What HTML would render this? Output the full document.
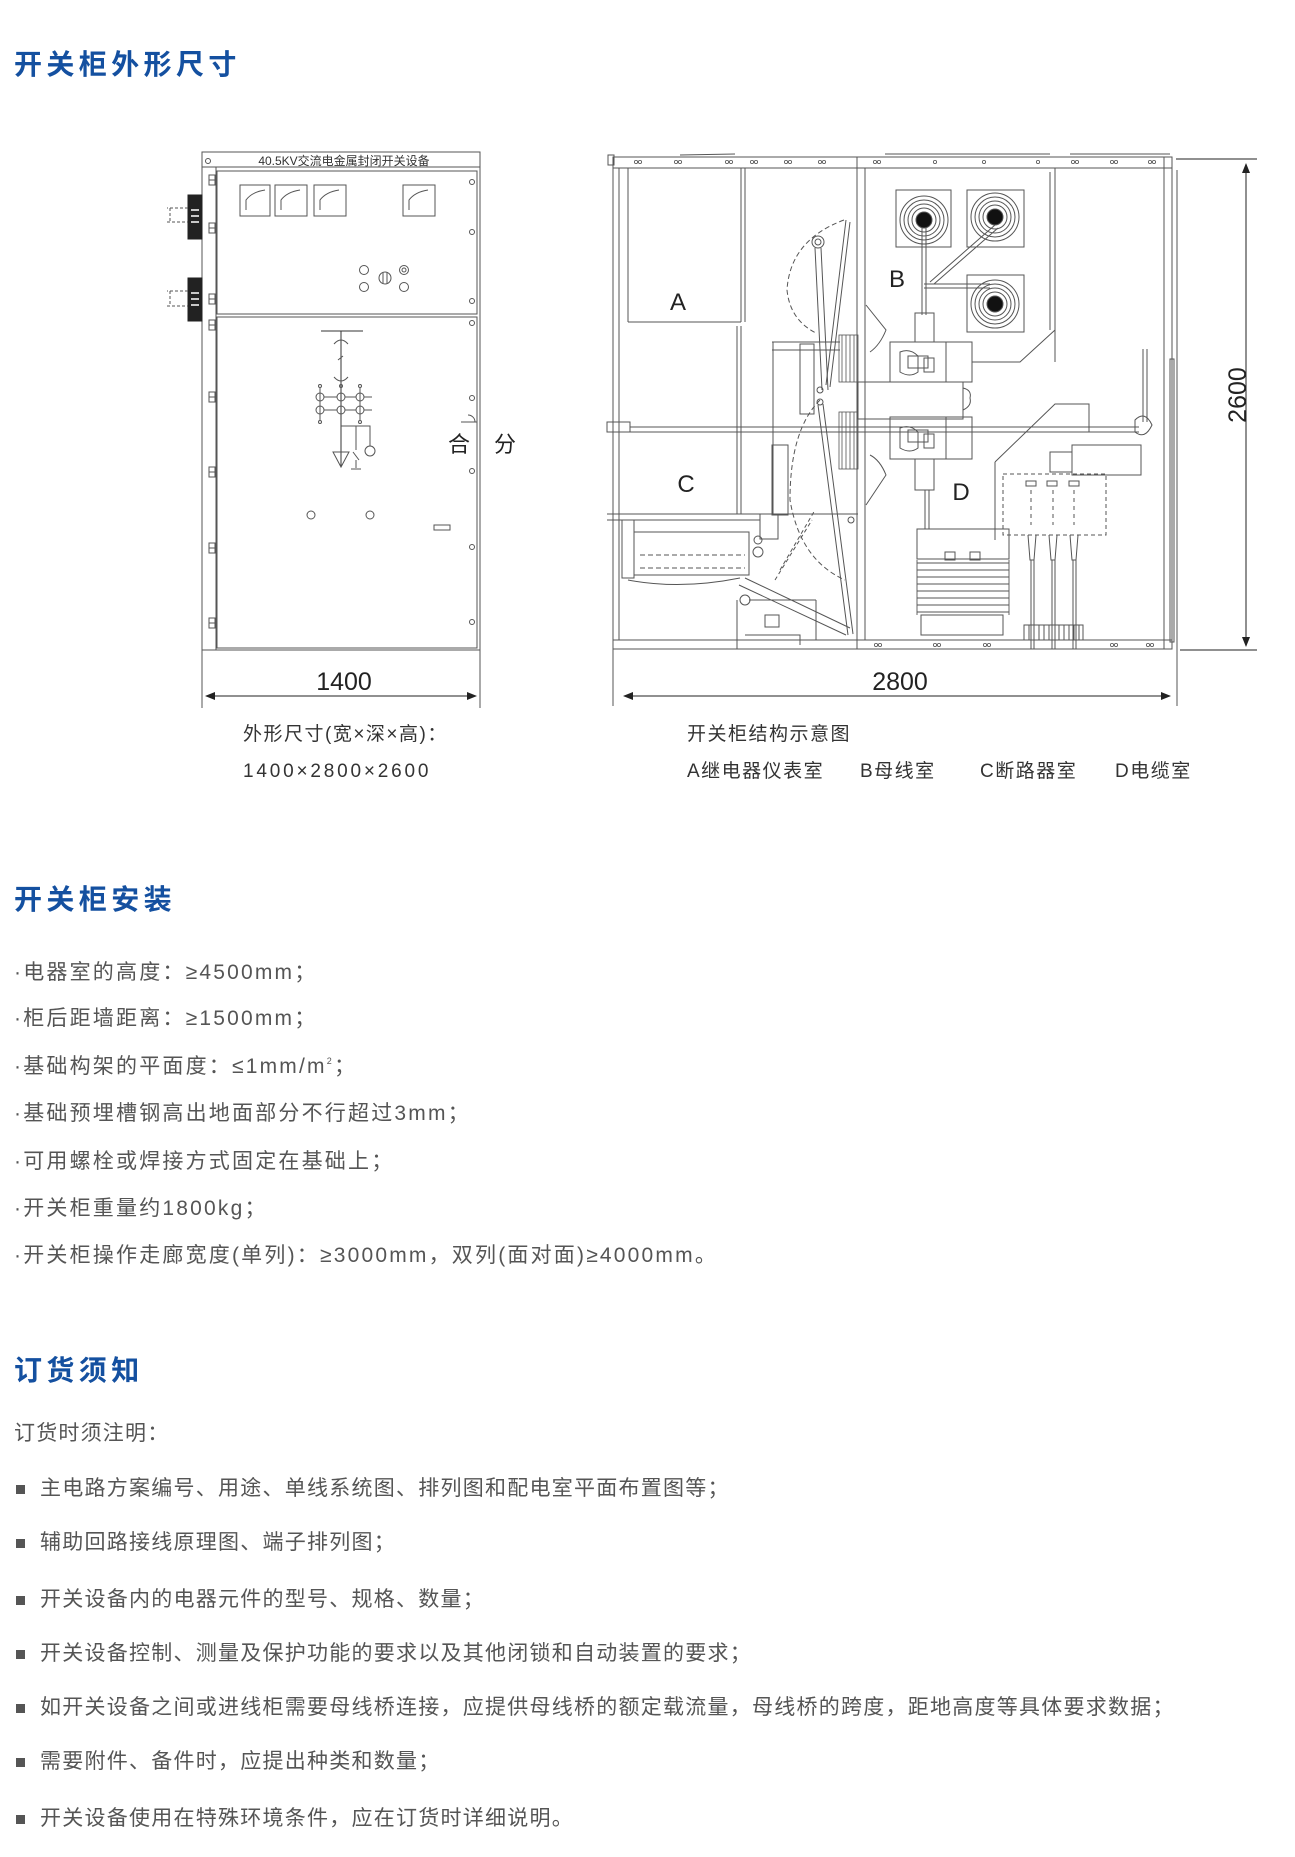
<!DOCTYPE html>
<html><head><meta charset="utf-8">
<style>
html,body{margin:0;padding:0;background:#fff;}
body{width:1295px;height:1857px;position:relative;overflow:hidden;font-family:"Liberation Sans","Noto Sans CJK SC",sans-serif;color:#555;}
.t{position:absolute;white-space:nowrap;}
.h{font-size:28px;font-weight:bold;color:#1450a0;letter-spacing:4.4px;left:14px;line-height:30px;}
.p{font-size:21px;letter-spacing:2.2px;line-height:24px;left:14px;color:#555;}
.b{font-size:21px;letter-spacing:1.25px;line-height:24px;left:40px;color:#555;}
.sq{position:absolute;left:16px;width:9px;height:9px;background:#555;}
.c{font-size:19px;letter-spacing:1.5px;line-height:22px;color:#333;}
.sp{font-size:9px;position:relative;top:-9px;}
</style></head><body>
<div class="t h" style="top:50px">开关柜外形尺寸</div>
<div class="t h" style="top:885px">开关柜安装</div>
<div class="t h" style="top:1356px">订货须知</div>

<div class="t p" style="top:961px">·电器室的高度：≥4500mm；</div>
<div class="t p" style="top:1007px">·柜后距墙距离：≥1500mm；</div>
<div class="t p" style="top:1055px">·基础构架的平面度：≤1mm/m<span class="sp">2</span>；</div>
<div class="t p" style="top:1102px">·基础预埋槽钢高出地面部分不行超过3mm；</div>
<div class="t p" style="top:1150px">·可用螺栓或焊接方式固定在基础上；</div>
<div class="t p" style="top:1197px">·开关柜重量约1800kg；</div>
<div class="t p" style="top:1244px">·开关柜操作走廊宽度(单列)：≥3000mm，双列(面对面)≥4000mm。</div>

<div class="t p" style="top:1422px;letter-spacing:1.2px">订货时须注明：</div>
<div class="sq" style="top:1485px"></div><div class="t b" style="top:1477px">主电路方案编号、用途、单线系统图、排列图和配电室平面布置图等；</div>
<div class="sq" style="top:1539px"></div><div class="t b" style="top:1531px">辅助回路接线原理图、端子排列图；</div>
<div class="sq" style="top:1596px"></div><div class="t b" style="top:1588px">开关设备内的电器元件的型号、规格、数量；</div>
<div class="sq" style="top:1650px"></div><div class="t b" style="top:1642px">开关设备控制、测量及保护功能的要求以及其他闭锁和自动装置的要求；</div>
<div class="sq" style="top:1704px"></div><div class="t b" style="top:1696px">如开关设备之间或进线柜需要母线桥连接，应提供母线桥的额定载流量，母线桥的跨度，距地高度等具体要求数据；</div>
<div class="sq" style="top:1758px"></div><div class="t b" style="top:1750px">需要附件、备件时，应提出种类和数量；</div>
<div class="sq" style="top:1815px"></div><div class="t b" style="top:1807px">开关设备使用在特殊环境条件，应在订货时详细说明。</div>

<div class="t c" style="left:243px;top:724px">外形尺寸(宽×深×高)：</div>
<div class="t c" style="left:243px;top:761px;letter-spacing:2.8px">1400×2800×2600</div>
<div class="t c" style="left:687px;top:724px">开关柜结构示意图</div>
<div class="t c" style="left:687px;top:761px">A继电器仪表室</div>
<div class="t c" style="left:860px;top:761px">B母线室</div>
<div class="t c" style="left:980px;top:761px">C断路器室</div>
<div class="t c" style="left:1115px;top:761px">D电缆室</div>

<svg style="position:absolute;left:0;top:0" width="1295" height="720" viewBox="0 0 1295 720" xmlns="http://www.w3.org/2000/svg">
<defs><marker id="ar" markerWidth="10" markerHeight="8" refX="9" refY="4" orient="auto"><path d="M0,0 L10,4 L0,8 Z" fill="#222"/></marker></defs>
<g fill="none" stroke="#555" stroke-width="1">
<!-- LEFT CABINET -->
<rect x="202" y="152" width="278" height="498"/>
<line x1="202" y1="167" x2="480" y2="167"/>
<circle cx="208" cy="161" r="2.5"/>
<line x1="216" y1="167" x2="216" y2="650"/>
<rect x="217" y="171" width="260" height="143"/>
<rect x="217" y="317" width="260" height="331"/>
<g>
<rect x="209" y="175" width="6" height="10"/><line x1="209" y1="180" x2="215" y2="180"/>
<rect x="209" y="223" width="6" height="10"/><line x1="209" y1="228" x2="215" y2="228"/>
<rect x="209" y="294" width="6" height="10"/><line x1="209" y1="299" x2="215" y2="299"/>
<rect x="209" y="320" width="6" height="10"/><line x1="209" y1="325" x2="215" y2="325"/>
<rect x="209" y="392" width="6" height="10"/><line x1="209" y1="397" x2="215" y2="397"/>
<rect x="209" y="467" width="6" height="10"/><line x1="209" y1="472" x2="215" y2="472"/>
<rect x="209" y="543" width="6" height="10"/><line x1="209" y1="548" x2="215" y2="548"/>
<rect x="209" y="618" width="6" height="10"/><line x1="209" y1="623" x2="215" y2="623"/>
</g>
<rect x="240" y="185" width="30" height="31"/><path d="M246,210 L246,200 Q252,192 265,190"/>
<rect x="275" y="185" width="32" height="31"/><path d="M281,210 L281,200 Q287,192 300,190"/>
<rect x="314" y="185" width="32" height="31"/><path d="M320,210 L320,200 Q326,192 339,190"/>
<rect x="403" y="185" width="32" height="31"/><path d="M409,210 L409,200 Q415,192 428,190"/>
<circle cx="364" cy="270" r="4.5"/><circle cx="364" cy="287" r="4.5"/>
<circle cx="385" cy="278" r="6"/><line x1="383" y1="272" x2="383" y2="284"/><line x1="387" y1="272" x2="387" y2="284"/>
<circle cx="404" cy="270" r="4.5"/><circle cx="404" cy="270" r="2"/><circle cx="404" cy="287" r="4.5"/>
<circle cx="472" cy="182" r="2.5"/><circle cx="472" cy="232" r="2.5"/><circle cx="472" cy="301" r="2.5"/>
<circle cx="472" cy="323" r="2.5"/><circle cx="472" cy="398" r="2.5"/><circle cx="472" cy="471" r="2.5"/><circle cx="472" cy="547" r="2.5"/><circle cx="472" cy="622" r="2.5"/>
<line x1="321" y1="331" x2="363" y2="331" stroke="#333"/>
<line x1="341" y1="331" x2="341" y2="467" stroke="#333"/>
<path d="M334,344 Q341,336 348,344"/><path d="M334,377 Q341,385 348,377"/>
<line x1="338" y1="360" x2="343" y2="356"/>
<circle cx="320" cy="397" r="4"/><circle cx="341" cy="397" r="4"/><circle cx="360" cy="397" r="4"/>
<circle cx="320" cy="410" r="4"/><circle cx="341" cy="410" r="4"/><circle cx="360" cy="410" r="4"/>
<line x1="320" y1="388" x2="320" y2="420"/><line x1="360" y1="388" x2="360" y2="420"/>
<path d="M324,397 L337,397 M345,397 L356,397 M364,397 L372,397 M324,410 L337,410 M345,410 L356,410 M364,410 L372,410"/>
<circle cx="320" cy="386" r="1.5"/><circle cx="341" cy="386" r="1.5"/><circle cx="360" cy="386" r="1.5"/>
<circle cx="320" cy="422" r="1.5"/><circle cx="360" cy="422" r="1.5"/>
<path d="M341,426 L370,426 L370,446"/><circle cx="370" cy="451" r="5"/>
<path d="M333,452 L349,452 L341,467 Z"/>
<path d="M356,426 L356,450 M353,452 L359,460 M356,460 L356,468 M351,469 L361,469"/>
<circle cx="311" cy="515" r="4"/><circle cx="370" cy="515" r="4"/>
<rect x="434" y="525" width="16" height="5"/>
<path d="M461,422 L477,422 M468,415 A7,7 0 0 1 475,422"/>
<rect x="188" y="195" width="14" height="44" fill="#222" stroke="#222"/>
<rect x="188" y="278" width="14" height="43" fill="#222" stroke="#222"/>
<g stroke="#fff" stroke-width="1.5"><line x1="191" y1="210" x2="199" y2="210"/><line x1="191" y1="216" x2="199" y2="216"/><line x1="191" y1="222" x2="199" y2="222"/>
<line x1="191" y1="293" x2="199" y2="293"/><line x1="191" y1="299" x2="199" y2="299"/><line x1="191" y1="305" x2="199" y2="305"/></g>
<path d="M188,208 L167,208 M167,222 L188,222 M170,208 L170,222 M188,291 L167,291 M167,306 L188,306 M170,291 L170,306" stroke-dasharray="3,2"/>
<line x1="202" y1="650" x2="202" y2="708"/><line x1="480" y1="650" x2="480" y2="708"/>
<line x1="206" y1="696" x2="476" y2="696" stroke="#222" marker-end="url(#ar)"/>
<line x1="476" y1="696" x2="206" y2="696" stroke="#222" marker-end="url(#ar)"/>

<!-- RIGHT CABINET -->
<rect x="613" y="157" width="559" height="492"/>
<line x1="613" y1="168" x2="1172" y2="168"/>
<line x1="613" y1="640" x2="1172" y2="640"/>
<line x1="1177" y1="170" x2="1177" y2="649"/>
<line x1="1164" y1="157" x2="1164" y2="649"/>
<line x1="619" y1="168" x2="619" y2="640"/><line x1="628" y1="168" x2="628" y2="322"/>
<rect x="608" y="155" width="6" height="10"/>
<path d="M680,155 L735,154 M885,154 L1050,154 M1070,154 L1170,154"/>
<g stroke-width="0.8">
<circle cx="636" cy="162" r="1.6"/><circle cx="640" cy="162" r="1.6"/><circle cx="676" cy="162" r="1.6"/><circle cx="680" cy="162" r="1.6"/><circle cx="727" cy="162" r="1.6"/><circle cx="731" cy="162" r="1.6"/><circle cx="752" cy="162" r="1.6"/><circle cx="756" cy="162" r="1.6"/><circle cx="786" cy="162" r="1.6"/><circle cx="790" cy="162" r="1.6"/><circle cx="820" cy="162" r="1.6"/><circle cx="824" cy="162" r="1.6"/><circle cx="875" cy="162" r="1.6"/><circle cx="879" cy="162" r="1.6"/><circle cx="935" cy="162" r="1.6"/><circle cx="984" cy="162" r="1.6"/><circle cx="1038" cy="162" r="1.6"/><circle cx="1073" cy="162" r="1.6"/><circle cx="1077" cy="162" r="1.6"/><circle cx="1112" cy="162" r="1.6"/><circle cx="1116" cy="162" r="1.6"/><circle cx="1150" cy="162" r="1.6"/><circle cx="1154" cy="162" r="1.6"/>
<circle cx="876" cy="645" r="1.6"/><circle cx="880" cy="645" r="1.6"/><circle cx="935" cy="645" r="1.6"/><circle cx="939" cy="645" r="1.6"/><circle cx="985" cy="645" r="1.6"/><circle cx="989" cy="645" r="1.6"/><circle cx="1112" cy="645" r="1.6"/><circle cx="1116" cy="645" r="1.6"/><circle cx="1148" cy="645" r="1.6"/><circle cx="1152" cy="645" r="1.6"/>
</g>
<line x1="741" y1="168" x2="741" y2="322"/><line x1="745" y1="168" x2="745" y2="322"/>
<line x1="857" y1="157" x2="857" y2="649"/><line x1="865" y1="168" x2="865" y2="640"/>
<line x1="1055" y1="168" x2="1055" y2="362"/><line x1="1050" y1="172" x2="1050" y2="330"/>
<line x1="628" y1="322" x2="741" y2="322"/>
<line x1="737" y1="326" x2="737" y2="514"/><line x1="741" y1="326" x2="741" y2="514"/>
<line x1="773" y1="342" x2="773" y2="514"/><line x1="773" y1="342" x2="812" y2="342"/>
<rect x="607" y="422" width="23" height="10"/>
<line x1="630" y1="427" x2="1139" y2="427"/><line x1="630" y1="432" x2="1139" y2="432"/>
<rect x="896" y="190" width="55" height="57"/>
<rect x="967" y="190" width="57" height="57"/>
<rect x="967" y="275" width="57" height="57"/>
<g>
<circle cx="924" cy="220" r="24"/><circle cx="924" cy="220" r="20"/><circle cx="924" cy="220" r="16"/><circle cx="924" cy="220" r="12"/>
<circle cx="995" cy="217" r="24"/><circle cx="995" cy="217" r="20"/><circle cx="995" cy="217" r="16"/><circle cx="995" cy="217" r="12"/>
<circle cx="995" cy="304" r="24"/><circle cx="995" cy="304" r="20"/><circle cx="995" cy="304" r="16"/><circle cx="995" cy="304" r="12"/>
</g>
<circle cx="924" cy="220" r="8" fill="#111"/><circle cx="995" cy="217" r="8" fill="#111"/><circle cx="995" cy="304" r="8" fill="#111"/>
<path d="M922,228 L922,315 M926,228 L926,315"/>
<path d="M995,225 L930,282 M998,228 L934,284"/>
<path d="M924,284 L990,284 M924,288 L990,288"/>
<path d="M1055,330 L1020,362 L972,362"/>
<rect x="915" y="313" width="19" height="29"/>
<path d="M890,342 L946,342 L946,382 L890,382 Z"/>
<rect x="946" y="342" width="26" height="40"/>
<path d="M900,352 Q910,348 918,356 L918,372 Q910,378 900,372 Z"/>
<rect x="908" y="356" width="20" height="12"/><rect x="924" y="358" width="10" height="14"/>
<rect x="858" y="382" width="105" height="37"/>
<path d="M963,388 Q972,390 970,398 Q972,406 963,410"/>
<path d="M890,417 L946,417 L946,459 L890,459 Z"/>
<rect x="946" y="417" width="26" height="42"/>
<path d="M900,428 Q910,424 918,432 L918,448 Q910,454 900,448 Z"/>
<rect x="908" y="430" width="20" height="12"/><rect x="924" y="434" width="10" height="14"/>
<rect x="915" y="459" width="19" height="31"/>
<path d="M870,352 Q880,345 886,330 L866,305 M870,455 Q880,460 886,475 L866,505"/>
<g stroke-width="0.8">
<rect x="839" y="335" width="19" height="47"/><path d="M842,335 L842,382 M846,335 L846,382 M850,335 L850,382 M854,335 L854,382"/>
<rect x="839" y="412" width="19" height="57"/><path d="M842,412 L842,469 M846,412 L846,469 M850,412 L850,469 M854,412 L854,469"/>
</g>
<path d="M772,342 L840,342 M772,350 L840,350"/>
<rect x="800" y="344" width="14" height="70"/>
<rect x="772" y="445" width="16" height="70"/>
<line x1="925" y1="490" x2="925" y2="529"/><line x1="929" y1="490" x2="929" y2="529"/>
<path d="M844,220 Q790,240 787,290 Q790,320 816,333" stroke-dasharray="5,3"/>
<path d="M820,400 Q790,430 790,500 Q800,560 845,580" stroke-dasharray="5,3"/>
<circle cx="818" cy="242" r="6"/><circle cx="818" cy="242" r="3"/>
<path d="M815,248 L822,390 M821,248 L828,390"/>
<path d="M846,220 L826,385 M850,222 L830,387"/>
<circle cx="820" cy="390" r="3"/><circle cx="820" cy="402" r="3"/>
<path d="M818,405 L848,635 M823,404 L853,634"/>
<circle cx="851" cy="520" r="3"/>
<path d="M780,570 L815,510 M775,580 L812,520" stroke-dasharray="4,3"/>
<path d="M607,514 L858,514 M607,520 L760,520"/>
<rect x="634" y="532" width="115" height="43"/>
<path d="M640,555 L745,555 M640,568 L745,568" stroke-dasharray="5,3"/>
<rect x="622" y="520" width="12" height="58"/>
<rect x="760" y="514" width="18" height="25"/><circle cx="758" cy="540" r="4"/><circle cx="758" cy="552" r="5"/>
<path d="M628,580 Q680,590 740,578"/>
<path d="M739,585 L846,635 M745,578 L850,628"/>
<circle cx="745" cy="600" r="5"/>
<path d="M737,600 L737,649 M816,600 L816,640 M749,600 L816,600"/>
<rect x="765" y="615" width="14" height="12"/>
<path d="M745,635 L800,635 L800,645"/>
<path d="M995,462 L1055,404 L1089,404 L1089,432"/>
<line x1="995" y1="462" x2="995" y2="540"/>
<rect x="1003" y="474" width="103" height="61" stroke-dasharray="4,3"/>
<rect x="1072" y="445" width="69" height="30"/>
<rect x="1050" y="452" width="22" height="20"/>
<line x1="1143" y1="349" x2="1143" y2="422"/><line x1="1147" y1="349" x2="1147" y2="422"/>
<path d="M1135,420 Q1145,410 1152,425 Q1145,440 1135,432 Z"/>
<rect x="1170" y="359" width="4" height="283"/>
<g>
<path d="M1028,535 L1030,560 L1034,560 L1036,535"/><path d="M1049,535 L1051,560 L1055,560 L1057,535"/><path d="M1070,535 L1072,560 L1076,560 L1078,535"/>
<path d="M1031,560 L1031,649 M1034,560 L1034,649 M1052,560 L1052,649 M1055,560 L1055,649 M1073,560 L1073,649 M1076,560 L1076,649"/>
<path d="M1031,490 L1031,525 M1053,490 L1053,525 M1074,490 L1074,525" stroke-dasharray="4,4"/>
<rect x="1026" y="481" width="10" height="5"/><rect x="1047" y="481" width="10" height="5"/><rect x="1069" y="481" width="10" height="5"/>
</g>
<rect x="1024" y="625" width="59" height="15"/>
<path d="M1029,625 L1029,640 M1034,625 L1034,640 M1039,625 L1039,640 M1044,625 L1044,640 M1049,625 L1049,640 M1059,625 L1059,640 M1064,625 L1064,640 M1069,625 L1069,640 M1074,625 L1074,640 M1079,625 L1079,640"/>
<rect x="917" y="529" width="92" height="30"/>
<g stroke-width="0.9">
<path d="M917,563 L1009,563 M917,570 L1009,570 M917,577 L1009,577 M917,584 L1009,584 M917,591 L1009,591 M917,598 L1009,598 M917,605 L1009,605 M917,612 L1009,612"/>
<path d="M917,560 L917,615 M1009,560 L1009,615"/>
</g>
<rect x="921" y="615" width="82" height="20"/>
<rect x="945" y="552" width="10" height="8"/><rect x="970" y="552" width="10" height="8"/>
<line x1="613" y1="649" x2="613" y2="706"/><line x1="1177" y1="649" x2="1177" y2="706"/>
<line x1="624" y1="696" x2="1170" y2="696" stroke="#222" marker-end="url(#ar)"/>
<line x1="1170" y1="696" x2="624" y2="696" stroke="#222" marker-end="url(#ar)"/>
<line x1="1176" y1="159" x2="1257" y2="159" stroke="#222"/>
<line x1="1180" y1="650" x2="1257" y2="650" stroke="#222"/>
<line x1="1246" y1="400" x2="1246" y2="164" stroke="#222" marker-end="url(#ar)"/>
<line x1="1246" y1="400" x2="1246" y2="646" stroke="#222" marker-end="url(#ar)"/>
</g>
<g font-family="Liberation Sans, Noto Sans CJK SC, sans-serif" fill="#222">
<text x="344" y="165" font-size="12" text-anchor="middle" fill="#333">40.5KV交流电金属封闭开关设备</text>
<text x="459" y="452" font-size="22" text-anchor="middle">合</text>
<text x="505" y="452" font-size="22" text-anchor="middle">分</text>
<text x="344" y="690" font-size="25" text-anchor="middle">1400</text>
<text x="900" y="690" font-size="25" text-anchor="middle">2800</text>
<text x="1246" y="395" font-size="25" text-anchor="middle" transform="rotate(-90 1246 395)">2600</text>
<text x="678" y="310" font-size="24" text-anchor="middle">A</text>
<text x="897" y="287" font-size="24" text-anchor="middle">B</text>
<text x="686" y="492" font-size="24" text-anchor="middle">C</text>
<text x="961" y="500" font-size="24" text-anchor="middle">D</text>
</g>
</svg>
</body></html>
